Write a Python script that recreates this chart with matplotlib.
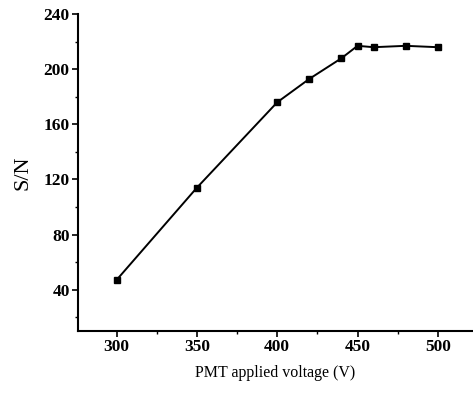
import numpy as np
from matplotlib import pyplot as plt
from matplotlib.ticker import MultipleLocator

plt.rcParams['font.family'] = ['Liberation Serif', 'DejaVu Serif']

# PMT voltage (V) and signal-to-noise ratio
voltage = [300, 350, 400, 420, 440, 450, 460, 480, 500]
snr = [47, 114, 176, 193, 208, 217, 216, 217, 216]

fig = plt.figure(figsize=(4.73, 3.93), dpi=100)
ax = fig.add_axes([0.165, 0.158, 0.832, 0.806])

ax.plot(voltage, snr, '-s', color='black', lw=1.4, ms=5, mfc='black')

ax.set_xlim(276, 521)
ax.set_ylim(10, 240)
ax.xaxis.set_major_locator(MultipleLocator(50))
ax.xaxis.set_minor_locator(MultipleLocator(25))
ax.yaxis.set_major_locator(MultipleLocator(40))
ax.yaxis.set_minor_locator(MultipleLocator(20))
ax.set_yticks([40, 80, 120, 160, 200, 240])

for s in ['top', 'right']:
    ax.spines[s].set_visible(False)
for s in ['left', 'bottom']:
    ax.spines[s].set_linewidth(1.5)

ax.tick_params(which='major', length=4, width=1.2, labelsize=12.5, direction='out', pad=2)
ax.tick_params(which='minor', length=2.5, width=1.0, direction='out')
for lab in ax.get_xticklabels() + ax.get_yticklabels():
    lab.set_fontweight('bold')

ax.set_xlabel('PMT applied voltage (V)', fontsize=11.5, labelpad=7)
ax.set_ylabel('S/N', fontsize=16, labelpad=8)

fig.savefig('out.png', dpi=100)
